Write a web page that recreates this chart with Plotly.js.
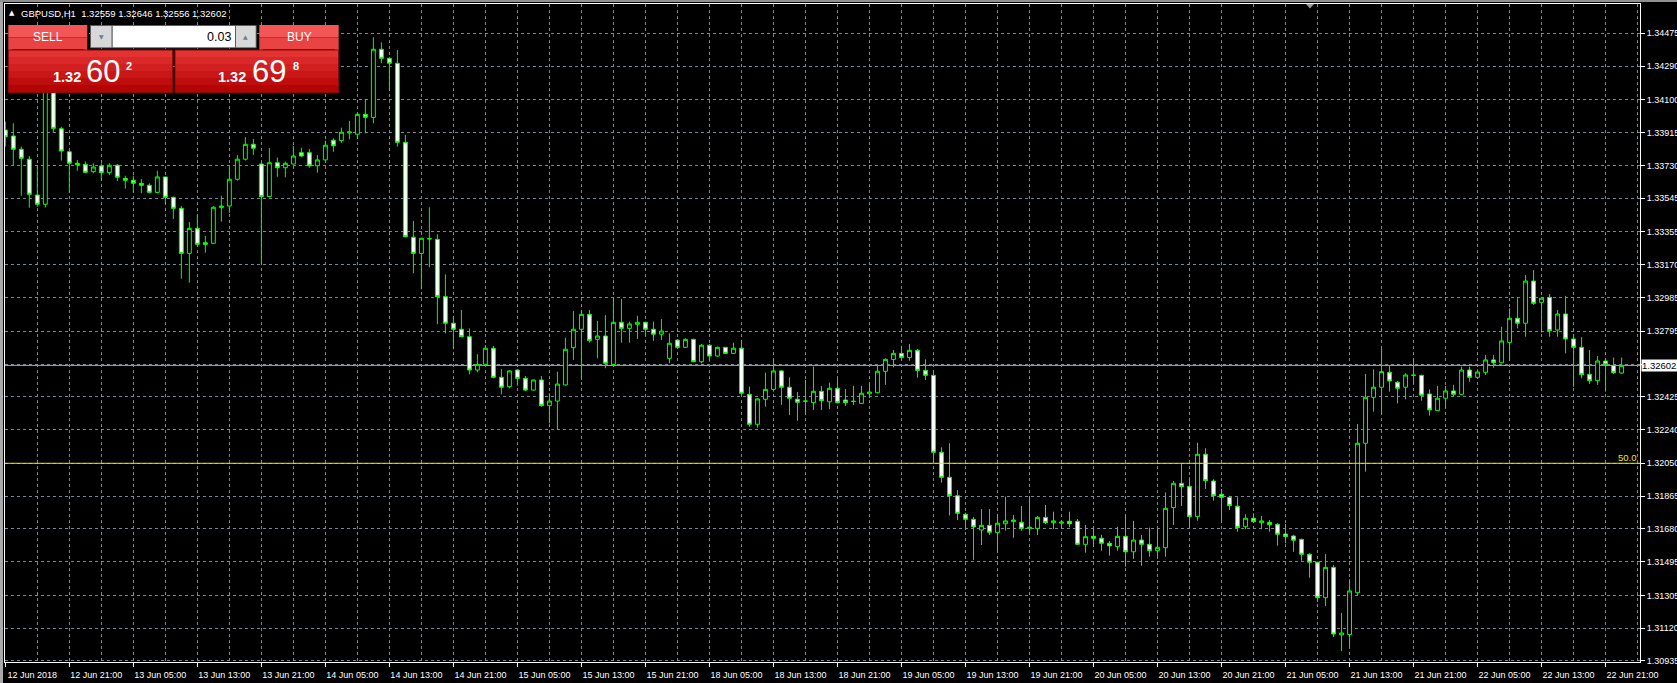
<!DOCTYPE html>
<html>
<head>
<meta charset="utf-8">
<script src="https://cdn.plot.ly/plotly-3.0.1.min.js"></script>
<style>
html,body{margin:0;padding:0;background:#000;overflow:hidden;}
#chart{width:1677px;height:683px;}
</style>
</head>
<body>
<div id="chart"></div>
<script>
// ---- DATA (GBPUSD, H1) ----
const symbolTitle = "GBPUSD,H1";
const lastBar = {open: 1.32559, high: 1.32646, low: 1.32556, close: 1.32602};
const bidPrice = 1.32602;
const fiboLevelPrice = 1.32050;
const fiboLevelLabel = "50.0";

const open = [
1.33930,1.33896,1.33821,1.33765,1.33563,1.33511,1.34313,1.33937,1.33807,1.33742,
1.33736,1.33695,1.33727,1.33689,1.33731,1.33657,1.33646,1.33629,1.33618,1.33578,
1.33665,1.33550,1.33488,1.33234,1.33375,1.33294,1.33291,1.33492,1.33501,1.33652,
1.33765,1.33849,1.33738,1.33554,1.33745,1.33717,1.33738,1.33802,1.33802,1.33728,
1.33761,1.33872,1.33870,1.33913,1.33906,1.34018,1.34001,1.34385,1.34334,1.34306,
1.33860,1.33325,1.33234,1.33315,1.33313,1.32990,1.32840,1.32806,1.32764,1.32576,
1.32608,1.32699,1.32535,1.32482,1.32576,1.32529,1.32463,1.32520,1.32375,1.32401,
1.32492,1.32702,1.32806,1.32890,1.32749,1.32768,1.32608,1.32845,1.32811,1.32834,
1.32845,1.32806,1.32778,1.32642,1.32745,1.32704,1.32749,1.32623,1.32716,1.32655,
1.32704,1.32670,1.32699,1.32439,1.32270,1.32411,1.32467,1.32571,1.32479,1.32411,
1.32400,1.32392,1.32456,1.32397,1.32473,1.32407,1.32400,1.32388,1.32442,1.32448,
1.32569,1.32636,1.32670,1.32646,1.32687,1.32574,1.32546,1.32112,1.31971,1.31867,
1.31762,1.31734,1.31674,1.31700,1.31659,1.31709,1.31721,1.31717,1.31683,1.31683,
1.31745,1.31715,1.31712,1.31723,1.31723,1.31593,1.31638,1.31627,1.31599,1.31580,
1.31638,1.31551,1.31617,1.31593,1.31557,1.31574,1.31800,1.31937,1.31920,1.31749,
1.32101,1.31950,1.31875,1.31858,1.31808,1.31692,1.31740,1.31715,1.31717,1.31706,
1.31651,1.31640,1.31621,1.31537,1.31492,1.31292,1.31463,1.31082,1.31084,1.31320,
1.32163,1.32422,1.32479,1.32563,1.32507,1.32479,1.32546,1.32546,1.32441,1.32347,
1.32417,1.32458,1.32439,1.32576,1.32535,1.32563,1.32633,1.32617,1.32732,1.32868,
1.32840,1.33078,1.32958,1.32986,1.32802,1.32892,1.32751,1.32704,1.32552,1.32516,
1.32627,1.32601,1.32559];

const high = [
1.33977,1.33968,1.33836,1.33783,1.33728,1.34381,1.34360,1.33948,1.33811,1.33761,
1.33753,1.33742,1.33742,1.33742,1.33738,1.33672,1.33672,1.33653,1.33629,1.33700,
1.33666,1.33554,1.33501,1.33411,1.33450,1.33332,1.33501,1.33559,1.33719,1.33789,
1.33889,1.33879,1.33745,1.33828,1.33774,1.33751,1.33840,1.33830,1.33823,1.33789,
1.33870,1.33883,1.33943,1.33981,1.34027,1.34105,1.34453,1.34424,1.34340,1.34381,
1.33902,1.33417,1.33322,1.33494,1.33342,1.33116,1.32881,1.32915,1.32811,1.32665,
1.32717,1.32712,1.32582,1.32576,1.32580,1.32542,1.32522,1.32542,1.32445,1.32567,
1.32758,1.32909,1.32915,1.32915,1.32853,1.32886,1.32981,1.32977,1.32849,1.32882,
1.32849,1.32849,1.32864,1.32783,1.32749,1.32755,1.32753,1.32723,1.32723,1.32708,
1.32706,1.32730,1.32745,1.32482,1.32417,1.32561,1.32642,1.32576,1.32535,1.32452,
1.32520,1.32595,1.32486,1.32505,1.32529,1.32469,1.32486,1.32486,1.32507,1.32599,
1.32642,1.32689,1.32712,1.32723,1.32695,1.32636,1.32576,1.32140,1.32163,1.31899,
1.31771,1.31747,1.31792,1.31792,1.31762,1.31862,1.31758,1.31809,1.31866,1.31753,
1.31815,1.31777,1.31721,1.31777,1.31736,1.31702,1.31696,1.31646,1.31612,1.31692,
1.31758,1.31725,1.31646,1.31687,1.31683,1.31886,1.31950,1.32046,1.31971,1.32166,
1.32135,1.31960,1.31905,1.31866,1.31858,1.31762,1.31768,1.31753,1.31730,1.31712,
1.31708,1.31646,1.31625,1.31542,1.31495,1.31538,1.31476,1.31206,1.31396,1.32272,
1.32554,1.32580,1.32699,1.32599,1.32514,1.32558,1.32642,1.32550,1.32467,1.32486,
1.32486,1.32492,1.32595,1.32595,1.32580,1.32661,1.32661,1.32820,1.32924,1.32981,
1.33112,1.33140,1.32985,1.33005,1.32915,1.32994,1.32778,1.32761,1.32689,1.32655,
1.32642,1.32646,1.32646];

const low = [
1.33836,1.33732,1.33559,1.33492,1.33497,1.33492,1.33915,1.33757,1.33576,1.33700,
1.33686,1.33686,1.33644,1.33676,1.33642,1.33599,1.33578,1.33573,1.33573,1.33573,
1.33511,1.33428,1.33091,1.33069,1.33276,1.33238,1.33287,1.33413,1.33463,1.33644,
1.33757,1.33789,1.33172,1.33550,1.33666,1.33663,1.33735,1.33779,1.33717,1.33689,
1.33758,1.33807,1.33858,1.33877,1.33879,1.33911,1.33968,1.34306,1.34152,1.33836,
1.33325,1.33122,1.33031,1.33155,1.32834,1.32783,1.32693,1.32761,1.32552,1.32563,
1.32604,1.32529,1.32439,1.32473,1.32488,1.32458,1.32460,1.32369,1.32276,1.32238,
1.32488,1.32633,1.32520,1.32730,1.32642,1.32586,1.32595,1.32730,1.32730,1.32751,
1.32768,1.32740,1.32745,1.32614,1.32696,1.32700,1.32620,1.32614,1.32623,1.32651,
1.32668,1.32666,1.32441,1.32256,1.32251,1.32369,1.32454,1.32379,1.32322,1.32290,
1.32322,1.32351,1.32351,1.32355,1.32388,1.32373,1.32379,1.32384,1.32417,1.32445,
1.32492,1.32591,1.32629,1.32629,1.32533,1.32520,1.32053,1.31941,1.31755,1.31730,
1.31674,1.31505,1.31589,1.31646,1.31546,1.31670,1.31630,1.31670,1.31650,1.31646,
1.31708,1.31679,1.31679,1.31689,1.31589,1.31546,1.31580,1.31557,1.31529,1.31557,
1.31467,1.31510,1.31472,1.31523,1.31514,1.31523,1.31702,1.31809,1.31687,1.31726,
1.31905,1.31839,1.31721,1.31787,1.31664,1.31678,1.31715,1.31678,1.31664,1.31585,
1.31599,1.31551,1.31501,1.31405,1.31269,1.31245,1.31070,1.30991,1.31011,1.31307,
1.32003,1.32341,1.32326,1.32454,1.32388,1.32411,1.32497,1.32403,1.32319,1.32345,
1.32360,1.32430,1.32435,1.32510,1.32529,1.32548,1.32589,1.32614,1.32629,1.32811,
1.32764,1.32943,1.32787,1.32764,1.32764,1.32670,1.32482,1.32529,1.32497,1.32492,
1.32454,1.32554,1.32556];

const close = [
1.33892,1.33821,1.33770,1.33567,1.33511,1.34313,1.33939,1.33811,1.33742,1.33734,
1.33691,1.33721,1.33689,1.33731,1.33663,1.33646,1.33629,1.33618,1.33578,1.33665,
1.33550,1.33488,1.33234,1.33375,1.33285,1.33285,1.33494,1.33501,1.33652,1.33765,
1.33849,1.33827,1.33554,1.33745,1.33717,1.33742,1.33783,1.33783,1.33728,1.33761,
1.33844,1.33841,1.33917,1.33919,1.34018,1.34001,1.34385,1.34334,1.34306,1.33860,
1.33328,1.33234,1.33319,1.33317,1.32990,1.32840,1.32806,1.32764,1.32576,1.32608,
1.32699,1.32535,1.32479,1.32571,1.32529,1.32463,1.32520,1.32375,1.32401,1.32497,
1.32693,1.32806,1.32890,1.32742,1.32768,1.32614,1.32845,1.32811,1.32836,1.32845,
1.32806,1.32778,1.32796,1.32727,1.32704,1.32749,1.32623,1.32716,1.32655,1.32704,
1.32670,1.32699,1.32445,1.32270,1.32413,1.32467,1.32571,1.32479,1.32417,1.32394,
1.32401,1.32456,1.32403,1.32473,1.32392,1.32392,1.32399,1.32445,1.32452,1.32569,
1.32636,1.32670,1.32646,1.32687,1.32574,1.32546,1.32112,1.31971,1.31867,1.31768,
1.31734,1.31691,1.31700,1.31661,1.31712,1.31725,1.31730,1.31683,1.31689,1.31745,
1.31715,1.31725,1.31719,1.31709,1.31593,1.31636,1.31627,1.31599,1.31584,1.31638,
1.31551,1.31617,1.31593,1.31557,1.31576,1.31796,1.31937,1.31918,1.31749,1.32101,
1.31952,1.31867,1.31858,1.31811,1.31687,1.31740,1.31721,1.31725,1.31704,1.31650,
1.31636,1.31616,1.31537,1.31492,1.31292,1.31463,1.31087,1.31093,1.31330,1.32163,
1.32422,1.32479,1.32567,1.32514,1.32473,1.32548,1.32547,1.32434,1.32351,1.32417,
1.32458,1.32439,1.32576,1.32535,1.32565,1.32633,1.32617,1.32740,1.32868,1.32840,
1.33078,1.32952,1.32981,1.32798,1.32892,1.32751,1.32704,1.32550,1.32516,1.32627,
1.32608,1.32561,1.32602];

// time-axis labels (one every 8 bars) and price-axis labels
const timeLabels = ["12 Jun 2018","12 Jun 21:00","13 Jun 05:00","13 Jun 13:00","13 Jun 21:00",
"14 Jun 05:00","14 Jun 13:00","14 Jun 21:00","15 Jun 05:00","15 Jun 13:00","15 Jun 21:00",
"18 Jun 05:00","18 Jun 13:00","18 Jun 21:00","19 Jun 05:00","19 Jun 13:00","19 Jun 21:00",
"20 Jun 05:00","20 Jun 13:00","20 Jun 21:00","21 Jun 05:00","21 Jun 13:00","21 Jun 21:00",
"22 Jun 05:00","22 Jun 13:00","22 Jun 21:00"];
const priceTicks = [1.34475,1.34290,1.34100,1.33915,1.33730,1.33545,1.33355,1.33170,1.32985,1.32795,
1.32610,1.32425,1.32240,1.32050,1.31865,1.31680,1.31495,1.31305,1.31120,1.30935];
// label hidden behind the bid-price box in the reference
const priceTickHidden = 1.32610;

// one-click trading panel texts
const lotSize = "0.03";
const sellQuote = {big:"1.32", pips:"60", frac:"2"};
const buyQuote  = {big:"1.32", pips:"69", frac:"8"};

// ---- LAYOUT HELPERS (pixel -> paper) ----
const L=5, R=1640, T=4, B=662;
const fx = px => (px-L)/(R-L);
const fy = py => (B-py)/(B-T);
function rect(x0,y0,x1,y1,fill,lineColor){
  return {type:'rect',xref:'paper',yref:'paper',x0:fx(x0),x1:fx(x1),y0:fy(y1),y1:fy(y0),
    fillcolor:fill,line:{width:lineColor?1:0,color:lineColor||'rgba(0,0,0,0)'},layer:'above'};
}
function hline(x0,x1,y,color){
  return {type:'line',xref:'paper',yref:'paper',x0:fx(x0),x1:fx(x1),y0:fy(y),y1:fy(y),
    line:{width:1,color:color},layer:'above'};
}
function txt(s,x,y,size,color,opt){
  opt=opt||{};
  return Object.assign({xref:'paper',yref:'paper',x:fx(x),y:fy(y),text:s,showarrow:false,
    font:{family:opt.family||'Liberation Sans, Arial, sans-serif',size:size,color:color,weight:opt.weight||'normal'},
    xanchor:opt.xanchor||'center',yanchor:'middle'},opt.extra||{});
}

const xs = open.map((_,i)=>i);
const tickPos = timeLabels.map((_,k)=>k*8);

const trace = {
  type:'candlestick', x:xs, open:open, high:high, low:low, close:close,
  increasing:{line:{color:'#00ff00',width:1},fillcolor:'#000000'},
  decreasing:{line:{color:'#00ff00',width:1},fillcolor:'#ffffff'},
  whiskerwidth:0, hoverinfo:'skip', showlegend:false
};

const shapes = [];
// window frame strips
shapes.push({type:'rect',xref:'paper',yref:'paper',x0:fx(0),x1:fx(3),y0:fy(683),y1:fy(0),fillcolor:'#a8a8a8',line:{width:0},layer:'above'});
shapes.push({type:'rect',xref:'paper',yref:'paper',x0:fx(0),x1:fx(1677),y0:fy(2),y1:fy(0),fillcolor:'#909090',line:{width:0},layer:'above'});
// bid line
shapes.push({type:'line',xref:'paper',yref:'y',x0:0,x1:1,y0:bidPrice,y1:bidPrice,line:{color:'#a9a9a9',width:1},layer:'below'});
// fibo 50% level
shapes.push({type:'line',xref:'paper',yref:'y',x0:0,x1:1,y0:fiboLevelPrice,y1:fiboLevelPrice,line:{color:'#e8e81e',width:1},layer:'above'});
// chart shift marker
shapes.push({type:'path',xref:'paper',yref:'paper',
  path:`M ${fx(1306)} ${fy(4)} L ${fx(1314)} ${fy(4)} L ${fx(1310)} ${fy(8.5)} Z`,fillcolor:'#9a9a9a',line:{width:0},layer:'above'});

// one-click panel
const lowBands = ['#e23232','#da2828','#d21f1f','#c91616','#bf0d0d','#b40505'];
const bandEdges = [50,57,64,71,78,85,92.7];
shapes.push(rect(8.3,25,87.3,37.5,'#f25656'));
shapes.push(rect(8.3,37.5,87.3,50,'#ea4343'));
shapes.push(rect(259.3,25,338.7,37.5,'#f25656'));
shapes.push(rect(259.3,37.5,338.7,50,'#ea4343'));
for(let k=0;k<6;k++){
  shapes.push(rect(8.3,bandEdges[k],172.7,bandEdges[k+1],lowBands[k]));
  shapes.push(rect(175,bandEdges[k],338.7,bandEdges[k+1],lowBands[k]));
}
shapes.push(hline(12,84,49.5,'#9a0d0d'));
shapes.push(hline(263,335,49.5,'#9a0d0d'));
shapes.push(rect(8.3,50,172.7,92.7,'rgba(0,0,0,0)','#8a0a0a'));
shapes.push(rect(175,50,338.7,92.7,'rgba(0,0,0,0)','#8a0a0a'));
// lot input
shapes.push(rect(90,25,256.7,48.3,'#5c5c5c'));
shapes.push(rect(91,26,111.5,47.3,'#d8d8d8'));
shapes.push(rect(112.7,26,235,47.3,'#ffffff'));
shapes.push(rect(236,26,255.7,47.3,'#d8d8d8'));

const annotations = [
  txt('\u25B2',12,12.5,7,'#ffffff',{family:'DejaVu Sans'}),
  txt(symbolTitle+'&nbsp; '+lastBar.open.toFixed(5)+' '+lastBar.high.toFixed(5)+' '+lastBar.low.toFixed(5)+' '+lastBar.close.toFixed(5),
      19,13.5,9.5,'#ffffff',{xanchor:'left'}),
  txt('SELL',48,37.5,12,'#ffffff'),
  txt('BUY',299,37.5,12,'#ffffff'),
  txt(lotSize,233,37,12.5,'#000000',{xanchor:'right'}),
  txt('\u25BC',101.5,36.5,6,'#6a7a9a',{family:'DejaVu Sans'}),
  txt('\u25B2',246,36.5,6,'#6a7a9a',{family:'DejaVu Sans'}),
  txt(sellQuote.big,67,76.5,14.5,'#ffffff',{weight:'bold'}),
  txt(sellQuote.pips,102.5,71,31,'#ffffff'),
  txt(sellQuote.frac,129.3,66,11,'#ffffff',{weight:'bold'}),
  txt(buyQuote.big,232,76.5,14.5,'#ffffff',{weight:'bold'}),
  txt(buyQuote.pips,268.7,71,31,'#ffffff'),
  txt(buyQuote.frac,295.7,66,11,'#ffffff',{weight:'bold'}),
  // fibo label
  {xref:'paper',yref:'y',x:fx(1639),y:fiboLevelPrice,text:fiboLevelLabel,showarrow:false,xanchor:'right',yanchor:'bottom',
   yshift:-2,font:{family:'Liberation Sans, Arial, sans-serif',size:9.5,color:'#e8e81e'}},
  // bid price box
  {xref:'paper',yref:'y',x:fx(1641),y:bidPrice,text:bidPrice.toFixed(5)+'&nbsp;',showarrow:false,xanchor:'left',yanchor:'middle',
   bgcolor:'#ffffff',borderpad:0,font:{family:'Liberation Sans, Arial, sans-serif',size:9.5,color:'#000000'}}
];

const gridStyle = {gridcolor:'#778899',griddash:'3px,3px',gridwidth:1};

const layout = {
  width:1677,height:683,
  margin:{l:L,r:1677-R,t:T,b:683-B,pad:0},
  paper_bgcolor:'#000000',plot_bgcolor:'#000000',
  showlegend:false,
  xaxis:Object.assign({
    type:'linear',range:[-0.04,204.3],autorange:false,
    tickmode:'array',tickvals:tickPos,ticktext:timeLabels,
    ticks:'outside',ticklen:4,tickcolor:'#ffffff',tickwidth:1,
    ticklabelshift:27,
    tickfont:{family:'Liberation Sans, Arial, sans-serif',size:9,color:'#ffffff'},
    showgrid:true,zeroline:false,
    minor:{tickmode:'linear',tick0:0,dtick:4,showgrid:true,gridcolor:'#778899',griddash:'3px,3px',gridwidth:1,ticks:''},
    showline:true,linecolor:'#ffffff',linewidth:1,mirror:true,
    rangeslider:{visible:false},fixedrange:true
  },gridStyle),
  yaxis:Object.assign({
    side:'right',range:[1.309293,1.346404],autorange:false,
    tickmode:'array',tickvals:priceTicks,
    ticktext:priceTicks.map(v=>v===priceTickHidden?'':v.toFixed(5)),
    ticks:'outside',ticklen:4,tickcolor:'#ffffff',tickwidth:1,
    tickfont:{family:'Liberation Sans, Arial, sans-serif',size:9,color:'#ffffff'},
    showgrid:true,zeroline:false,
    showline:true,linecolor:'#ffffff',linewidth:1,mirror:true,fixedrange:true
  },gridStyle),
  shapes:shapes,
  annotations:annotations
};

Plotly.newPlot('chart',[trace],layout,{staticPlot:true,displayModeBar:false});
</script>
</body>
</html>
